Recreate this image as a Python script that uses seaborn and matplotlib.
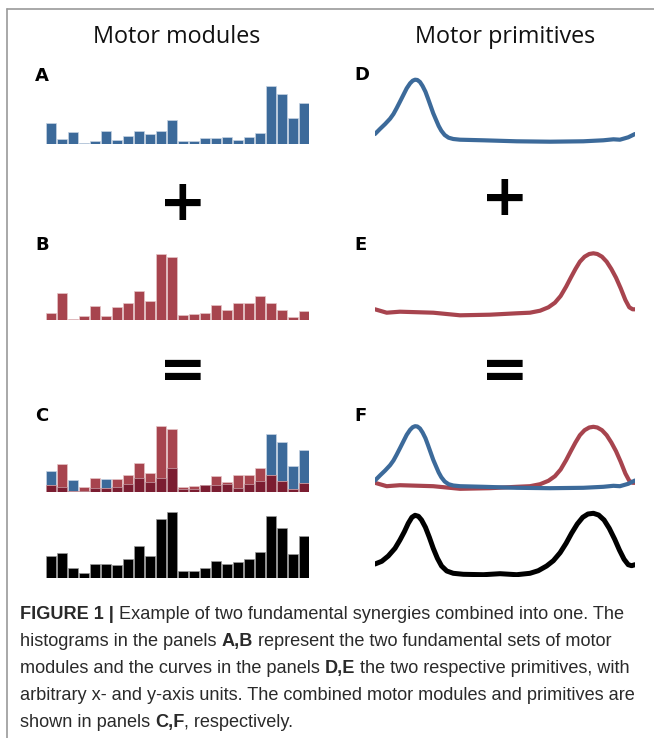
import numpy as np
import seaborn as sns
import matplotlib.pyplot as plt
from matplotlib.lines import Line2D

# ---------------------------------------------------------------
# data (arbitrary units)
# ---------------------------------------------------------------
modules_a = [62, 14, 35, 3, 10, 39, 13, 23, 40, 29, 40, 72,
             9, 8, 19, 19, 22, 12, 22, 32, 174, 149, 77, 124]
modules_b = [20, 82, 2, 13, 42, 12, 38, 51, 86, 56, 198, 189,
             14, 17, 20, 46, 30, 50, 50, 71, 50, 31, 8, 27]
modules_sum = [66, 73, 29, 13, 40, 42, 39, 56, 96, 64, 177, 197,
               19, 20, 30, 49, 40, 46, 55, 78, 185, 148, 71, 124]

prim_d_x = [0, 1.9, 3.9, 5.8, 7.1, 8.3, 9.6, 10.9, 12.2, 13.5, 14.5, 15.4,
            16.3, 17.3, 18.3, 19.4, 20.4, 21.4, 22.4, 23.5, 24.5, 25.5, 26.8,
            28.3, 30.1, 32.7, 41.7, 54.5, 67.3, 80.1, 87.8, 91.7, 94.2, 97.4, 100]
prim_d_y = [11, 16, 21, 26.3, 31, 36.7, 43.3, 50, 56.7, 61.7, 64.3, 65.3,
            65, 63, 59, 53.3, 46.3, 39, 31.7, 25, 19, 14.3, 10,
            7.3, 6, 5.3, 4.7, 3.7, 3.3, 3.7, 4.7, 5.7, 5.3, 7.7, 11]

prim_e_x = [0, 4.5, 9.6, 22.4, 32.7, 44.2, 54.5, 59.6, 63.5, 66.7, 69.2, 71.4,
            73.5, 75.3, 77.1, 78.8, 80.6, 82.4, 84.0, 85.5, 87.3, 89.1, 90.9,
            92.7, 94.5, 96.3, 97.8, 99.1, 100]
prim_e_y = [8.7, 5.3, 6.3, 5.3, 2.7, 3.3, 4.7, 5.3, 7.3, 10.7, 15.3, 22,
            31.3, 40.3, 49, 56.3, 61.3, 64, 64.7, 64, 61.3, 56.3, 49,
            40.3, 29.7, 18, 10.7, 8.7, 8.7]

prim_sum_x = [0, 2.6, 5.1, 7.7, 9.6, 11.3, 12.8, 14.2, 15.4, 16.7, 17.9, 19.4,
              20.9, 22.4, 24.0, 25.6, 27.6, 30.1, 34.0, 41.7, 48.1, 54.5, 59.6,
              62.8, 66.0, 68.6, 71.2, 73.5, 75.6, 77.8, 79.9, 81.9, 84.0, 86.0,
              88.1, 90.1, 92.2, 94.0, 95.8, 97.4, 98.7, 100]
prim_sum_y = [13, 15.7, 21, 28.7, 37, 45.3, 53.7, 59.7, 61.7, 60.7, 57, 49.7,
              39.7, 28.7, 18.7, 11, 6, 3.7, 2.7, 2.3, 3.3, 2.3, 3.7,
              6.3, 11, 16.3, 24.3, 33.7, 43.7, 53, 59.7, 63, 63.7, 62,
              57, 48.7, 37.7, 27, 17.7, 12.3, 11.3, 12.3]

bar_idx = list(range(len(modules_a)))

BLUE = "#3c6a9a"
RED = "#a7444e"
DARK = "#7b1d31"

W, H = 654, 738
sns.set_theme(style="white")

fig = plt.figure(figsize=(W / 100, H / 100), dpi=100)


def fx(x):
    return x / W


def fy(y):
    return 1 - y / H


def add_axes_px(left, bottom, width, height):
    return fig.add_axes([fx(left), fy(bottom), width / W, height / H])


# frame around the figure (left and top only visible)
fig.add_artist(Line2D([fx(7), fx(W + 5)], [fy(9), fy(9)], color="#9a9a9a", lw=1.2))
fig.add_artist(Line2D([fx(7), fx(7)], [fy(9), fy(H + 5)], color="#9a9a9a", lw=1.2))

# ---------------------------------------------------------------
# motor modules (bars)
# ---------------------------------------------------------------
bar_kw = dict(saturation=1, width=0.93, linewidth=0.5)


def bar_axes(bottom):
    return add_axes_px(45.7, bottom, 263.6, 200 / 3)


def finish_bars(ax):
    ax.set_xlim(-0.5, len(bar_idx) - 0.5)
    ax.set_ylim(0, 200)
    ax.axis("off")


ax_a = bar_axes(144)
sns.barplot(x=bar_idx, y=modules_a, color=BLUE, edgecolor="#c6d3e2", ax=ax_a, **bar_kw)
finish_bars(ax_a)

ax_b = bar_axes(320)
sns.barplot(x=bar_idx, y=modules_b, color=RED, edgecolor="#e6c4c7", ax=ax_b, **bar_kw)
finish_bars(ax_b)

ax_c = bar_axes(491.7)
sns.barplot(x=bar_idx, y=modules_a, color=BLUE, edgecolor="#c6d3e2", ax=ax_c, **bar_kw)
sns.barplot(x=bar_idx, y=modules_b, color=RED, edgecolor="#e6c4c7", ax=ax_c, **bar_kw)
sns.barplot(x=bar_idx, y=np.minimum(modules_a, modules_b), color=DARK,
            edgecolor="#c9a0a8", ax=ax_c, **bar_kw)
finish_bars(ax_c)

ax_s = bar_axes(577.7)
sns.barplot(x=bar_idx, y=modules_sum, color="black", edgecolor="#9a9a9a", ax=ax_s, **bar_kw)
finish_bars(ax_s)

# ---------------------------------------------------------------
# motor primitives (curves)
# ---------------------------------------------------------------
def curve_axes(bottom):
    return add_axes_px(375, bottom, 260, 70)


def finish_curve(ax):
    ax.set_xlim(0, 100)
    ax.set_ylim(0, 70)
    ax.axis("off")


line_kw = dict(estimator=None, solid_capstyle="round", solid_joinstyle="round")

ax_d = curve_axes(145)
sns.lineplot(x=prim_d_x, y=prim_d_y, color=BLUE, linewidth=3, ax=ax_d, **line_kw)
finish_curve(ax_d)

ax_e = curve_axes(318)
sns.lineplot(x=prim_e_x, y=prim_e_y, color=RED, linewidth=3, ax=ax_e, **line_kw)
finish_curve(ax_e)

ax_f = curve_axes(491.5)
sns.lineplot(x=prim_e_x, y=prim_e_y, color=RED, linewidth=3, ax=ax_f, **line_kw)
sns.lineplot(x=prim_d_x, y=prim_d_y, color=BLUE, linewidth=3, ax=ax_f, **line_kw)
finish_curve(ax_f)

ax_g = curve_axes(577)
sns.lineplot(x=prim_sum_x, y=prim_sum_y, color="black", linewidth=3.6, ax=ax_g, **line_kw)
finish_curve(ax_g)

# ---------------------------------------------------------------
# headings, panel letters and operators
# ---------------------------------------------------------------
fig.text(fx(177), fy(37), "Motor modules", ha="center", va="center",
         fontsize=16.8, family="Open Sans", color="#111111")
fig.text(fx(505), fy(37), "Motor primitives", ha="center", va="center",
         fontsize=16.8, family="Open Sans", color="#111111")

for lab, x, y in [("A", 35, 76), ("B", 35, 245), ("C", 35, 416),
                  ("D", 354, 75), ("E", 354, 245), ("F", 354, 416)]:
    fig.text(fx(x), fy(y), lab, ha="left", va="center", fontsize=13,
             weight="bold", family="DejaVu Sans", color="black")

for sym, x, y in [("+", 183, 205), ("+", 505, 200), ("=", 183, 373), ("=", 505, 372)]:
    fig.text(fx(x), fy(y), sym, ha="center", va="center", fontsize=41,
             weight="bold", family="DejaVu Sans", color="black")

# ---------------------------------------------------------------
# caption with bold pieces
# ---------------------------------------------------------------
caption = [
    [("FIGURE 1 | ", True), ("Example of two fundamental synergies combined into one. The", False)],
    [("histograms in the panels ", False), ("A,B", True),
     (" represent the two fundamental sets of motor", False)],
    [("modules and the curves in the panels ", False), ("D,E", True),
     (" the two respective primitives, with", False)],
    [("arbitrary x- and y-axis units. The combined motor modules and primitives are", False)],
    [("shown in panels ", False), ("C,F", True), (", respectively.", False)],
]
cap_base = [619, 646, 673, 700, 727]

renderer = fig.canvas.get_renderer()
for parts, y in zip(caption, cap_base):
    x = 20
    for txt, bold in parts:
        t = fig.text(fx(x), fy(y), txt, ha="left", va="baseline", fontsize=13.1,
                     family="Liberation Sans", weight="bold" if bold else "normal",
                     color="#2a2a2a")
        x += t.get_window_extent(renderer).width

fig.savefig("out.png", dpi=100)
